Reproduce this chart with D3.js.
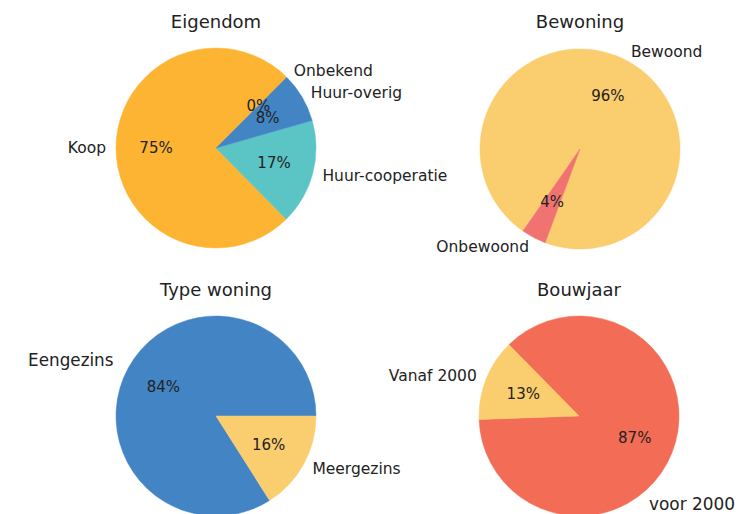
<!DOCTYPE html>
<html>
<head>
<meta charset="utf-8">
<script src="https://cdn.jsdelivr.net/npm/d3@7"></script>
<style>
  html, body { margin: 0; padding: 0; background: #fff; }
  svg { display: block; font-family: "DejaVu Sans", sans-serif; }
</style>
</head>
<body>
<svg id="chart" width="740" height="514"></svg>
<script>
// ---- data ----
const titles = ["Eigendom", "Bewoning", "Type woning", "Bouwjaar"];

const eigendomLabels = ["Koop", "Huur-cooperatie", "Huur-overig", "Onbekend"];
const eigendomValues = [74.9, 17.05, 8.05, 0];

const bewoningLabels = ["Bewoond", "Onbewoond"];
const bewoningValues = [96, 4];

const typeLabels = ["Eengezins", "Meergezins"];
const typeValues = [84, 16];

const bouwjaarLabels = ["voor 2000", "Vanaf 2000"];
const bouwjaarValues = [86.8, 13.2];

// ---- styling / layout ----
const orange = "#fdb432", teal = "#5bc5c6", blue = "#4384c4",
      yellow = "#facd6e", pink = "#f07372", coral = "#f36c55";

const pies = [
  { title: titles[0], labels: eigendomLabels, values: eigendomValues, colors: [orange, teal, blue, "#999"], start: 45, cx: 216, cy: 148 },
  { title: titles[1], labels: bewoningLabels, values: bewoningValues, colors: [yellow, pink], start: 249.6, cx: 580, cy: 149 },
  { title: titles[2], labels: typeLabels, values: typeValues, colors: [blue, yellow], start: 0, cx: 216, cy: 416,
    labelOverride: { "Eengezins": { dist: 1.17, size: 16.8 } } },
  { title: titles[3], labels: bouwjaarLabels, values: bouwjaarValues, colors: [coral, yellow], start: 182, cx: 579, cy: 416,
    labelOverride: { "voor 2000": { angle: -51.5, dist: 1.125, size: 16.9 } } }
];
const titleY = [28, 28, 296, 296];
const R = 100;
const labelSize = 15.5, pctSize = 15, titleSize = 18;
const textColor = "#222";

const svg = d3.select("#chart");
const toRad = d => d * Math.PI / 180;

pies.forEach((p, i) => {
  const g = svg.append("g").attr("transform", `translate(${p.cx},${p.cy})`);
  const startD3 = toRad(90 - p.start);
  const pie = d3.pie().sort(null).value(d => d)
    .startAngle(startD3).endAngle(startD3 - 2 * Math.PI);
  const arcs = pie(p.values);
  const arc = d3.arc().innerRadius(0).outerRadius(R);
  const total = d3.sum(p.values);

  g.selectAll("path.slice").data(arcs).join("path")
    .attr("class", "slice")
    .attr("d", arc)
    .attr("fill", (d, j) => p.colors[j])
    .attr("stroke", (d, j) => p.colors[j])
    .attr("stroke-width", 0.5);

  arcs.forEach((d, j) => {
    const midD3 = (d.startAngle + d.endAngle) / 2;
    const mid = Math.PI / 2 - midD3; // math angle (ccw from +x)
    const ov = (p.labelOverride && p.labelOverride[p.labels[j]]) || {};
    const theta = ov.angle !== undefined ? toRad(ov.angle) : mid;
    const dist = ov.dist || 1.1;
    const lx = dist * R * Math.cos(theta), ly = -dist * R * Math.sin(theta);
    g.append("text")
      .attr("x", lx).attr("y", ly).attr("dy", "0.35em")
      .attr("text-anchor", lx > 0 ? "start" : "end")
      .attr("font-size", ov.size || labelSize).attr("fill", textColor)
      .text(p.labels[j]);

    const px = 0.6 * R * Math.cos(mid), py = -0.6 * R * Math.sin(mid);
    g.append("text")
      .attr("x", px).attr("y", py).attr("dy", "0.35em")
      .attr("text-anchor", "middle")
      .attr("font-size", pctSize).attr("fill", textColor)
      .text(d3.format(".0f")(p.values[j] / total * 100) + "%");
  });

  svg.append("text")
    .attr("x", p.cx).attr("y", titleY[i])
    .attr("text-anchor", "middle")
    .attr("font-size", titleSize).attr("fill", textColor)
    .text(p.title);
});
</script>
</body>
</html>
